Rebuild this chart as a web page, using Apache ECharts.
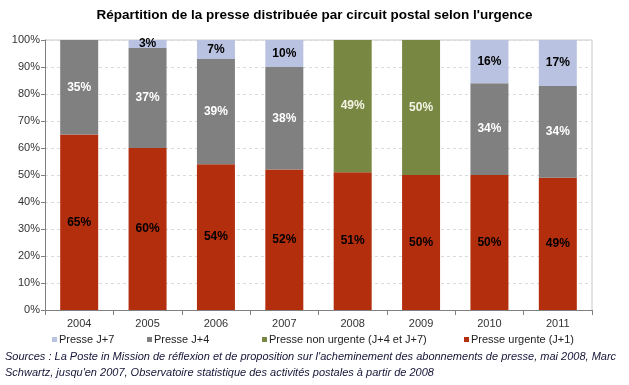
<!DOCTYPE html>
<html><head><meta charset="utf-8">
<script src="https://cdn.jsdelivr.net/npm/echarts@6/dist/echarts.min.js"></script>
<style>html,body{margin:0;padding:0;background:#fff}#c{width:629px;height:385px}</style>
</head><body><div id="c"></div>
<script>
const categories = ['2004','2005','2006','2007','2008','2009','2010','2011'];
const urgente = [65, 60, 54, 52, 51, 50, 50, 49];
const j4 = [35, 37, 39, 38, null, null, 34, 34];
const nonUrgente = [null, null, null, null, 49, 50, null, null];
const j7 = [null, 3, 7, 10, null, null, 16, 17];
const yTicks = ['0%','10%','20%','30%','40%','50%','60%','70%','80%','90%','100%'];
const seriesNames = ['Presse J+7','Presse J+4','Presse non urgente (J+4 et J+7)','Presse urgente (J+1)'];

const FONT = 'Liberation Sans, Arial, sans-serif';
const fmt = p => (p.value == null ? '' : p.value + '%');
function bar(name, data, color, labelColor) {
  return {
    name, type: 'bar', stack: 'a', data, barWidth: 38,
    itemStyle: { color },
    label: { show: true, position: 'inside', formatter: fmt, color: labelColor,
      fontFamily: FONT, fontWeight: 'bold', fontSize: 12 }
  };
}
function legend(name, left) {
  return { data: [name], left, top: 334, padding: 0, itemWidth: 5, itemHeight: 5, itemGap: 0,
    icon: 'rect', textStyle: { fontFamily: FONT, fontSize: 11, color: '#222', padding: [0,0,0,-3] },
    selectedMode: false };
}
const chart = echarts.init(document.getElementById('c'));
chart.setOption({
  animation: false,
  title: { text: 'Répartition de la presse distribuée par circuit postal selon l\'urgence',
    left: 'center', top: 3,
    textStyle: { fontFamily: FONT, fontSize: 13.5, fontWeight: 'bold', color: '#000' } },
  legend: [legend(seriesNames[0], 52), legend(seriesNames[1], 147), legend(seriesNames[2], 262), legend(seriesNames[3], 464)],
  graphic: [
    { type: 'text', left: 5, top: 349, style: { text: 'Sources : La Poste in Mission de réflexion et de proposition sur l\'acheminement des abonnements de presse, mai 2008, Marc\nSchwartz, jusqu\'en 2007, Observatoire statistique des activités postales à partir de 2008',
      font: 'italic 11px ' + FONT, fill: '#141437', lineHeight: 16 } },
    { type: 'polyline', shape: { points: [[45, 40], [592, 40], [592, 310]] }, style: { stroke: '#c8c8c8', lineWidth: 1, fill: null }, z: 0 }
  ],
  grid: { left: 45, right: 37, top: 40, bottom: 75 },
  xAxis: { type: 'category', data: categories,
    axisLine: { lineStyle: { color: '#808080' } },
    axisTick: { show: true, alignWithLabel: false, length: 5, lineStyle: { color: '#808080' } },
    axisLabel: { fontFamily: FONT, fontSize: 11, color: '#333', margin: 8 } },
  yAxis: { type: 'value', min: 0, max: 100, interval: 10,
    axisLine: { show: true, lineStyle: { color: '#808080' } },
    axisTick: { show: true, length: 4, lineStyle: { color: '#808080' } },
    axisLabel: { fontFamily: FONT, fontSize: 11, color: '#333', margin: 5,
      formatter: v => yTicks[Math.round(v / 10)] },
    splitLine: { lineStyle: { color: '#dadada', type: [3, 3] } } },
  series: [
    bar(seriesNames[3], urgente, '#B32E0D', '#000'),
    bar(seriesNames[1], j4, '#808080', '#fff'),
    bar(seriesNames[2], nonUrgente, '#788843', '#f4f4e4'),
    bar(seriesNames[0], j7, '#B9C2E0', '#000')
  ]
});
</script></body></html>
